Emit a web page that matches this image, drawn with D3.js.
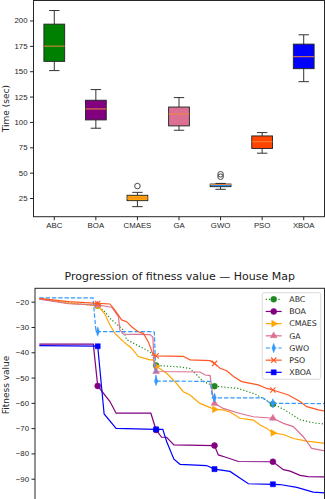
<!DOCTYPE html>
<html>
<head>
<meta charset="utf-8">
<script src="https://cdn.jsdelivr.net/npm/d3@7"></script>
<style>
  body { margin: 0; background: #fff; }
  svg { display: block; font-family: "DejaVu Sans", sans-serif; }
  .axis text { font-size: 7.8px; fill: #262626; }
  .axis line { stroke: #262626; }
  .axis path.domain { display: none; }
  .spine { fill: none; stroke: #262626; stroke-width: 1; }
</style>
</head>
<body>
<svg id="chart" width="325" height="499"></svg>
<script>
// ---- run time per algorithm (seconds) ----
const algorithms  = ['ABC', 'BOA', 'CMAES', 'GA', 'GWO', 'PSO', 'XBOA'];
const boxColors   = ['#008000', '#800080', '#ffa500', '#db7093', '#1e90ff', '#ff4500', '#0000ff'];
const whiskerLow  = [150.6,  93.8, 16.5,  91.8, 33.6, 69.2, 139.7];
const quartile1   = [159.7, 102.0, 22.4,  96.1, 36.2, 73.8, 152.5];
const medians     = [174.7, 112.8, 25.0, 107.9, 38.3, 80.5, 164.3];
const quartile3   = [196.4, 121.4, 27.7, 114.7, 38.8, 86.2, 176.7];
const whiskerHigh = [209.8, 131.9, 30.6, 124.0, 39.4, 89.5, 185.9];
const outliers    = [[], [], [36.8], [], [46.0, 48.4], [], []];
const timeTicks   = [25, 50, 75, 100, 125, 150, 175, 200];

// ---- fitness progression, [iteration, best fitness] ----
const abcCurve = [[0,-18.8],[10,-20.5],[20,-21.5],[22.5,-24],[24.2,-26.6],[28.8,-31.2],[29.9,-35],
  [34.5,-37.8],[37.9,-39.8],[38.9,-41.7],[40,-45.2],[48.2,-45.8],[51.6,-46.4],[54,-49],[56,-51.5],
  [60,-53.4],[68,-54.3],[73.9,-56.5],[80,-60.5],[84.1,-62.8],[89.3,-66.7],[94.4,-68],[100,-68.6]];
const boaCurve = [[0,-36.8],[18.5,-36.8],[20,-53.3],[24.2,-59.5],[26.3,-64.1],[38.2,-64.1],[40,-70.7],
  [41.9,-73.6],[43.6,-73.6],[46.1,-76.6],[60,-76.9],[61.3,-80.6],[63.6,-81.4],[68.2,-83.2],[80,-83.3],
  [83.6,-86.4],[85.9,-87],[89.3,-88.7],[92,-89.2],[100,-89.3]];
const cmaesCurve = [[0,-18.8],[10,-20.6],[20,-21.6],[22.3,-24.6],[24.2,-29.2],[25.9,-32.5],[28.8,-35.8],
  [31.6,-38.4],[33.9,-41.7],[37.9,-43],[39,-43],[40,-45.5],[43.6,-48.3],[47,-52.3],[49.3,-55.6],
  [51.6,-56.9],[55,-60.2],[60,-62.6],[62.9,-62.8],[65.3,-63.6],[68.7,-66.1],[73.3,-66.8],[75.6,-68.8],
  [77.9,-70.1],[80,-71.9],[83.6,-72.5],[87,-74.1],[91.6,-75.1],[97.8,-76],[100,-76.1]];
const gaCurve = [[0,-19],[10,-20.8],[20,-21.3],[24.8,-22.2],[27.1,-25.9],[27.6,-31.2],[28.8,-32.8],
  [37.9,-33],[38.9,-34],[39.4,-46],[40,-47.6],[55,-47.8],[56.8,-49],[58.5,-49.2],[59.5,-58],[60,-60.2],
  [63,-62.2],[68.7,-64.2],[73.3,-65.5],[80,-66.1],[83.6,-68.1],[87,-69.4],[90.4,-73.4],[93.3,-78],
  [97.8,-79],[100,-79.2]];
const gwoCurve = [[0,-18.5],[18.4,-18.5],[19.4,-31.8],[20,-31.8],[38.6,-31.8],[39.4,-32],[40,-51.4],
  [58.5,-51.5],[59.3,-58],[60,-58],[76.6,-58],[79,-60.1],[80,-60.2],[100,-60.3]];
const psoCurve = [[0,-18.7],[10,-20],[20,-20.7],[24.2,-20.9],[25.9,-23.3],[28.2,-27.2],[29.9,-27.9],
  [31.6,-29.9],[33.9,-31.9],[35.6,-32.5],[37.3,-35.8],[39,-41.1],[40,-41.4],[49.3,-41.6],[51.6,-43],
  [58.5,-43.3],[60,-44.4],[61.9,-46.3],[64.2,-47.3],[66.5,-49.6],[69.3,-51.6],[75,-52.9],[77.9,-54.3],
  [80,-54.9],[85.3,-56.9],[89.3,-59.5],[91.6,-61.5],[95.6,-62.8],[100,-63.8]];
const xboaCurve = [[0,-37.4],[20,-37.6],[22.2,-64.4],[26.3,-70.1],[40,-70.5],[42.3,-70.5],[43.6,-75.3],
  [46.1,-82.3],[48.2,-84.3],[57.3,-84.8],[60,-86.2],[65.3,-87.1],[71.6,-92],[80,-92.2],[82.4,-92.3],
  [88.2,-93.4],[93.8,-95.3],[97.8,-95.6],[100,-95.7]];
const fitnessTicks = [-90, -80, -70, -60, -50, -40, -30, -20];
const markEvery = 20;

const svg = d3.select('#chart');

// ================= box plot =================
const box = {left: 33.5, right: 324.5, top: 0.5, bottom: 216.7};

const xBox = d3.scaleBand()
    .domain(algorithms)
    .range([box.left, box.right]);

const yBox = d3.scaleLinear()
    .domain([6.6, 219.7])
    .range([box.bottom, box.top]);

const boxW = xBox.bandwidth() * 0.5;
const capW = xBox.bandwidth() * 0.25;

svg.append('g')
    .attr('class', 'axis')
    .attr('transform', `translate(${box.left},0)`)
    .call(d3.axisLeft(yBox).tickValues(timeTicks).tickSize(3.5).tickPadding(2.5));

svg.append('g')
    .attr('class', 'axis')
    .attr('transform', `translate(0,${box.bottom})`)
    .call(d3.axisBottom(xBox).tickSize(3.5).tickPadding(2.5));

const boxes = svg.append('g')
  .selectAll('g')
  .data(algorithms)
  .join('g')
    .attr('transform', d => `translate(${xBox(d) + xBox.bandwidth() / 2},0)`);

// whiskers
boxes.append('line')
    .attr('y1', (d, i) => yBox(whiskerLow[i]))
    .attr('y2', (d, i) => yBox(quartile1[i]))
    .attr('stroke', '#333');
boxes.append('line')
    .attr('y1', (d, i) => yBox(quartile3[i]))
    .attr('y2', (d, i) => yBox(whiskerHigh[i]))
    .attr('stroke', '#333');

// caps
boxes.append('line')
    .attr('x1', -capW / 2).attr('x2', capW / 2)
    .attr('y1', (d, i) => yBox(whiskerLow[i]))
    .attr('y2', (d, i) => yBox(whiskerLow[i]))
    .attr('stroke', '#333');
boxes.append('line')
    .attr('x1', -capW / 2).attr('x2', capW / 2)
    .attr('y1', (d, i) => yBox(whiskerHigh[i]))
    .attr('y2', (d, i) => yBox(whiskerHigh[i]))
    .attr('stroke', '#333');

// quartile boxes
boxes.append('rect')
    .attr('x', -boxW / 2)
    .attr('width', boxW)
    .attr('y', (d, i) => yBox(quartile3[i]))
    .attr('height', (d, i) => yBox(quartile1[i]) - yBox(quartile3[i]))
    .attr('fill', (d, i) => boxColors[i])
    .attr('stroke', '#222')
    .attr('stroke-width', 0.9);

// medians
boxes.append('line')
    .attr('x1', -boxW / 2).attr('x2', boxW / 2)
    .attr('y1', (d, i) => yBox(medians[i]))
    .attr('y2', (d, i) => yBox(medians[i]))
    .attr('stroke', '#f0883a')
    .attr('stroke-width', 1);

// fliers
boxes.selectAll('circle')
  .data((d, i) => outliers[i])
  .join('circle')
    .attr('cy', v => yBox(v))
    .attr('r', 2.8)
    .attr('fill', 'none')
    .attr('stroke', '#333')
    .attr('stroke-width', 0.9);

// spines
svg.append('rect')
    .attr('class', 'spine')
    .attr('x', box.left).attr('y', box.top)
    .attr('width', box.right - box.left)
    .attr('height', box.bottom - box.top);

svg.append('text')
    .attr('transform', `translate(9,${(box.top + box.bottom) / 2}) rotate(-90)`)
    .attr('text-anchor', 'middle')
    .style('font-size', '9px')
    .style('fill', '#262626')
    .text('Time (sec)');

// ================= fitness progression =================
const fit = {left: 35, right: 324.5, top: 288.3, bottom: 504};

const xFit = d3.scaleLinear()
    .domain([0, 100])
    .range([39.3, 331.3]);

const yFit = d3.scaleLinear()
    .domain([-100, -14.7])
    .range([fit.bottom, fit.top]);

svg.append('text')
    .attr('x', (fit.left + fit.right) / 2)
    .attr('y', 280.3)
    .attr('text-anchor', 'middle')
    .style('font-size', '11px')
    .style('fill', '#1a1a1a')
    .text('Progression of fitness value — House Map');

svg.append('g')
    .attr('class', 'axis')
    .attr('transform', `translate(${fit.left},0)`)
    .call(d3.axisLeft(yFit).tickValues(fitnessTicks).tickSize(3.5).tickPadding(2.5));

svg.append('text')
    .attr('transform', 'translate(9,385) rotate(-90)')
    .attr('text-anchor', 'middle')
    .style('font-size', '9px')
    .style('fill', '#262626')
    .text('Fitness value');

svg.append('clipPath')
    .attr('id', 'fit-clip')
  .append('rect')
    .attr('x', fit.left).attr('y', fit.top)
    .attr('width', fit.right - fit.left)
    .attr('height', fit.bottom - fit.top);

const symbolX = d3.symbolX;
const series = [
  {name: 'ABC',   data: abcCurve,   color: '#1f8a1f', dash: '1.2,2',   shape: d3.symbolCircle,   size: 28, rot: 0,  sx: 1},
  {name: 'BOA',   data: boaCurve,   color: '#800080', dash: null,      shape: d3.symbolCircle,   size: 28, rot: 0,  sx: 1},
  {name: 'CMAES', data: cmaesCurve, color: '#ffa500', dash: null,      shape: d3.symbolTriangle, size: 20, rot: 90, sx: 1},
  {name: 'GA',    data: gaCurve,    color: '#db7093', dash: null,      shape: d3.symbolTriangle, size: 20, rot: 0,  sx: 1},
  {name: 'GWO',   data: gwoCurve,   color: '#3399ff', dash: '4.4,1.9', shape: d3.symbolDiamond,  size: 26, rot: 0,  sx: 0.65},
  {name: 'PSO',   data: psoCurve,   color: '#ff5722', dash: null,      shape: symbolX,           size: 20, rot: 0,  sx: 1},
  {name: 'XBOA',  data: xboaCurve,  color: '#0000ff', dash: null,      shape: d3.symbolSquare,   size: 26, rot: 0,  sx: 1}
];

const line = d3.line()
    .x(d => xFit(d[0]))
    .y(d => yFit(d[1]));

function drawMarker(sel, s) {
  sel.attr('d', d3.symbol(s.shape, s.size)())
      .attr('fill', s.shape === symbolX ? 'none' : s.color)
      .attr('stroke', s.color)
      .attr('stroke-width', s.shape === symbolX ? 1.1 : 0.5);
}

const plot = svg.append('g').attr('clip-path', 'url(#fit-clip)');

series.forEach(s => {
  plot.append('path')
      .datum(s.data)
      .attr('d', line)
      .attr('fill', 'none')
      .attr('stroke', s.color)
      .attr('stroke-width', 1.2)
      .attr('stroke-dasharray', s.dash);

  plot.selectAll(null)
    .data(s.data.filter(d => d[0] > 0 && d[0] % markEvery === 0))
    .join('path')
      .attr('transform', d => `translate(${xFit(d[0])},${yFit(d[1])}) rotate(${s.rot}) scale(${s.sx},1)`)
      .call(drawMarker, s);
});

svg.append('rect')
    .attr('class', 'spine')
    .attr('x', fit.left).attr('y', fit.top)
    .attr('width', fit.right - fit.left)
    .attr('height', fit.bottom - fit.top);

// legend
const legend = svg.append('g').attr('transform', 'translate(262.3,292.7)');
legend.append('rect')
    .attr('width', 58.4)
    .attr('height', 86.6)
    .attr('rx', 2)
    .attr('fill', 'rgba(255,255,255,0.85)')
    .attr('stroke', '#d0d0d0')
    .attr('stroke-width', 0.8);

const entries = legend.selectAll('g')
  .data(series)
  .join('g')
    .attr('transform', (d, i) => `translate(0,${6.6 + i * 12.17})`);

entries.append('line')
    .attr('x1', 3.4).attr('x2', 19.4)
    .attr('stroke', d => d.color)
    .attr('stroke-width', 1.2)
    .attr('stroke-dasharray', d => d.dash);

entries.append('path')
    .each(function(d) {
      d3.select(this)
          .attr('transform', `translate(11.4,0) rotate(${d.rot}) scale(${d.sx},1)`)
          .call(drawMarker, d);
    });

entries.append('text')
    .attr('x', 27)
    .attr('dy', '0.35em')
    .style('font-size', '7.8px')
    .style('fill', '#262626')
    .text(d => d.name);
</script>
</body>
</html>
